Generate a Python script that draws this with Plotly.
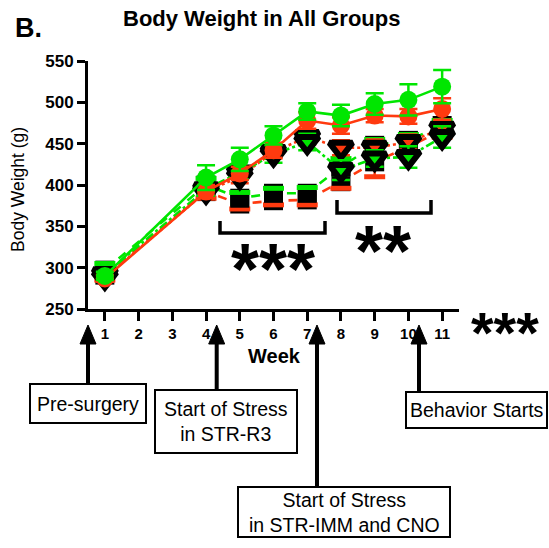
import plotly.graph_objects as go

# ---- data: mean body weight (g) and SEM per week ----
weeks = [1, 4, 5, 6, 7, 8, 9, 10, 11]

circle_green = [290, 409, 431, 460, 489, 484, 498, 503, 519]
circle_green_sem = [5, 15, 14, 11, 10, 13, 13, 19, 20]

circle_red = [287, 392, 414, 442, 478, 472, 484, 483, 492]
circle_red_sem = [4, 8, 8, 9, 10, 10, 8, 9, 13]

square_green = [297, 400, 384, 390, 390, 422, 448, 454, 472]
square_green_sem = [8, 8, 7, 6, 7, 10, 7, 7, 6]

square_red = [291, 392, 377, 381, 382, 404, 428, 446, 466]
square_red_sem = [6, 8, 6, 5, 6, 8, 18, 8, 8]

tri_green = [292, 395, 415, 437, 452, 418, 432, 434, 458]
tri_green_sem = [5, 8, 8, 10, 10, 12, 10, 13, 13]

tri_red = [288, 392, 410, 440, 458, 445, 445, 452, 468]
tri_red_sem = [5, 8, 8, 8, 9, 9, 10, 9, 9]

y_ticks = [250, 300, 350, 400, 450, 500, 550]
x_ticks = list(range(1, 12))

GREEN = "#00e600"
RED = "#ff3a0f"
FONT = "Arial, Liberation Sans, sans-serif"

W, H = 549, 548
L, R, T, B = 88, 90, 61, 239
PW, PH = W - L - R, H - T - B


def px(x):
    return (x - L) / PW


def py(y):
    return (H - B - y) / PH


fig = go.Figure()


def err(sem, color):
    return dict(type="data", array=sem, visible=True, color=color,
                thickness=2.5, width=9)


def series(y, sem, color, symbol, dash, fill, size, mline):
    fig.add_trace(go.Scatter(
        x=weeks, y=y, mode="lines+markers",
        line=dict(color=color, width=2.6, dash=dash),
        marker=dict(symbol=symbol, size=size, color=fill,
                    line=dict(color="black", width=mline)),
        error_y=err(sem, color), showlegend=False, cliponaxis=False))


def caps(y, sem, color, sign):
    fig.add_trace(go.Scatter(
        x=weeks, y=[v + sign * s for v, s in zip(y, sem)], mode="markers",
        marker=dict(symbol="line-ew", size=15,
                    line=dict(color=color, width=5)),
        showlegend=False, hoverinfo="skip", cliponaxis=False))


# squares (dashed), drawn first
series(square_red, square_red_sem, RED, "square", "dash", "black", 19, 0)
caps(square_red, square_red_sem, RED, -1)
series(square_green, square_green_sem, GREEN, "square", "dash", "black", 19, 0)
caps(square_green, square_green_sem, GREEN, 1)
# triangles
series(tri_red, tri_red_sem, RED, "triangle-down", "dot", RED, 20, 6)
series(tri_green, tri_green_sem, GREEN, "triangle-down", "dashdot", GREEN, 20, 6)
# circles on top
series(circle_red, circle_red_sem, RED, "circle", "solid", RED, 18, 0)
series(circle_green, circle_green_sem, GREEN, "circle", "solid", GREEN, 18, 0)

shapes = []
annotations = []


def path(points, width=3.5, fill=None):
    d = "M " + " L ".join(f"{px(a):.5f},{py(b):.5f}" for a, b in points)
    if fill:
        d += " Z"
    shapes.append(dict(type="path", path=d, xref="paper", yref="paper",
                       line=dict(color="black", width=width),
                       fillcolor=fill if fill else "rgba(0,0,0,0)"))


def text(x, y, s, size, bold=False, **kw):
    if bold:
        s = f"<b>{s}</b>"
    annotations.append(dict(x=px(x), y=py(y), xref="paper", yref="paper",
                            text=s, showarrow=False,
                            font=dict(family=FONT, size=size, color="black"),
                            xanchor="center", yanchor="middle", **kw))


# significance brackets
path([(220, 221), (220, 233), (325, 233), (325, 221)])
path([(337, 200), (337, 213), (431, 213), (431, 200)])
text(273, 269, "***", 72, bold=True)
text(383, 251, "**", 72, bold=True)
text(505, 332, "***", 58, bold=True)

# timeline arrows and boxes
for ax, bottom in [(88, 384), (216.7, 390), (317, 487), (419, 392)]:
    path([(ax, 340), (ax, bottom)], width=4)
    path([(ax, 325), (ax - 8, 344), (ax + 8, 344)], width=1, fill="black")

boxes = [
    ((30, 146, 384, 423), "Pre-surgery"),
    ((155, 297, 390, 453), "Start of Stress<br>in STR-R3"),
    ((238, 450, 487, 537), "Start of Stress<br>in STR-IMM and CNO"),
    ((406, 547, 392, 428), "Behavior Starts"),
]
for (x0, x1, y0, y1), label in boxes:
    shapes.append(dict(type="rect", xref="paper", yref="paper",
                       x0=px(x0), x1=px(x1), y0=py(y0), y1=py(y1),
                       line=dict(color="black", width=2), fillcolor="white"))
    text((x0 + x1) / 2, (y0 + y1) / 2, label, 19.5)

# titles
text(261, 19, "Body Weight in All Groups", 22, bold=True)
text(28, 28, "B.", 27, bold=True)
text(274, 356, "Week", 20, bold=True)
text(18, 190, "Body Weight (g)", 17.5, textangle=-90)

fig.update_layout(
    width=W, height=H,
    margin=dict(l=L, r=R, t=T, b=B),
    paper_bgcolor="white", plot_bgcolor="white",
    shapes=shapes, annotations=annotations,
    xaxis=dict(range=[0.5, 11.5], tickvals=x_ticks, showline=True,
               linecolor="black", linewidth=3, ticks="outside", ticklen=9,
               tickwidth=2.5, tickcolor="black", showgrid=False,
               zeroline=False,
               tickfont=dict(family=FONT, size=15, color="black",
                             weight="bold")),
    yaxis=dict(range=[250, 550], tickvals=y_ticks, showline=True,
               linecolor="black", linewidth=3, ticks="outside", ticklen=8,
               tickwidth=2.5, tickcolor="black", showgrid=False,
               zeroline=False,
               tickfont=dict(family=FONT, size=17, color="black",
                             weight="bold")),
)

fig.write_html("out.html")
